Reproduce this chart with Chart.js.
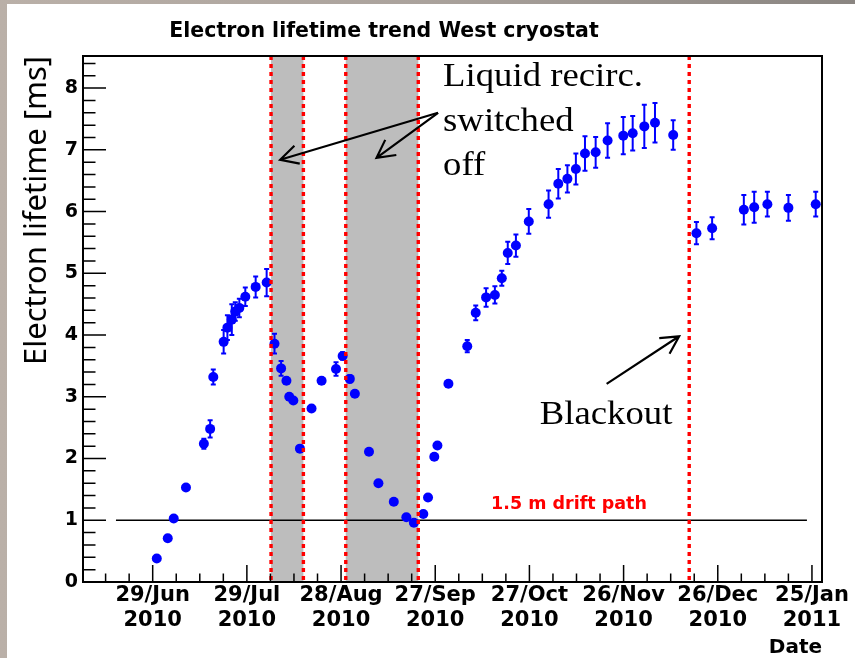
<!DOCTYPE html>
<html>
<head>
<meta charset="utf-8">
<script src="https://cdn.jsdelivr.net/npm/chart.js@4.4.1/dist/chart.umd.min.js"></script>
<style>
  html, body { margin: 0; padding: 0; background: #fff; overflow: hidden; }
  canvas { display: block; }
</style>
</head>
<body>
<canvas id="c" width="855" height="658"></canvas>
<script>
// Electron lifetime in the West cryostat; x = days counted from 29 Jun 2010
const dayOffsets = [
  1.3, 4.8, 6.7, 10.6, 16.3, 18.3, 19.3, 22.6, 23.8, 25.2, 26.3, 27.6, 29.5, 32.8, 36.3,
  38.8, 40.9, 42.6, 43.5, 44.8, 46.9, 50.6, 53.8, 58.4, 60.5, 62.8, 64.4, 68.9, 71.9, 76.8,
  80.8, 83.2, 86.2, 87.7, 89.7, 90.7, 94.2, 100.2, 102.9, 106.2, 109.0, 111.2, 113.1, 115.7,
  119.8, 126.1, 129.2, 132.1, 134.8, 137.7, 141.1, 144.9, 149.9, 152.9, 156.6, 160.0, 165.8,
  173.2, 178.2, 188.3, 191.6, 195.8, 202.5, 211.2
];
const lifetimeMs = [
  0.38, 0.71, 1.03, 1.53, 2.24, 2.48, 3.32, 3.89, 4.12, 4.25, 4.38, 4.44, 4.62, 4.78, 4.85,
  3.86, 3.46, 3.26, 3.00, 2.94, 2.16, 2.81, 3.26, 3.45, 3.66, 3.29, 3.05, 2.11, 1.60, 1.30,
  1.05, 0.96, 1.10, 1.37, 2.03, 2.21, 3.21, 3.82, 4.36, 4.61, 4.65, 4.92, 5.33, 5.45,
  5.84, 6.12, 6.45, 6.53, 6.69, 6.94, 6.96, 7.15, 7.23, 7.27, 7.38, 7.44, 7.24,
  5.65, 5.73, 6.03, 6.07, 6.12, 6.06, 6.12
];
const lifetimeErr = [
  0, 0, 0, 0, 0.08, 0.14, 0.12, 0.19, 0.20, 0.25, 0.15, 0.15, 0.15, 0.17, 0.22,
  0.16, 0.12, 0.05, 0, 0, 0, 0, 0.05, 0.11, 0.06, 0.06, 0, 0, 0, 0,
  0, 0, 0, 0, 0, 0, 0, 0.10, 0.12, 0.15, 0.14, 0.12, 0.18, 0.18,
  0.20, 0.22, 0.24, 0.22, 0.25, 0.28, 0.25, 0.28, 0.30, 0.28, 0.35, 0.32, 0.24,
  0.18, 0.18, 0.24, 0.25, 0.20, 0.21, 0.20
];

// Date axis: labelled every 30 days
const dateTickDays = [0, 30, 60, 90, 120, 150, 180, 210];
const dateTickLabels = [
  ['29/Jun', '2010'], ['29/Jul', '2010'], ['28/Aug', '2010'], ['27/Sep', '2010'],
  ['27/Oct', '2010'], ['26/Nov', '2010'], ['26/Dec', '2010'], ['25/Jan', '2011']
];
const lifetimeTicks = [0, 1, 2, 3, 4, 5, 6, 7, 8];

// Events: recirculation stops/restarts and the blackout (days from 29 Jun 2010)
const eventDays = [37.7, 48.0, 61.5, 84.6, 170.9];
const recircOffBands = [[37.7, 48.0], [61.5, 84.6]];
// Lifetime needed for a 1.5 m drift path
const driftPathLifetime = 1.0;
const driftPathSpan = [-11.7, 208.4];

const points = dayOffsets.map((d, i) => ({ x: d, y: lifetimeMs[i] }));

function arrow(ctx, x1, y1, x2, y2) {
  const ang = Math.atan2(y2 - y1, x2 - x1);
  const hl = 20, ha = 28 * Math.PI / 180;
  ctx.beginPath();
  ctx.moveTo(x1, y1); ctx.lineTo(x2, y2);
  ctx.moveTo(x2 - hl * Math.cos(ang - ha), y2 - hl * Math.sin(ang - ha));
  ctx.lineTo(x2, y2);
  ctx.lineTo(x2 - hl * Math.cos(ang + ha), y2 - hl * Math.sin(ang + ha));
  ctx.stroke();
}

function wideText(ctx, txt, x, y, font, sx, align, color) {
  ctx.save();
  ctx.font = font;
  ctx.fillStyle = color || '#000';
  ctx.textAlign = align || 'left';
  ctx.textBaseline = 'alphabetic';
  ctx.translate(x, y);
  ctx.scale(sx, 1);
  ctx.fillText(txt, 0, 0);
  ctx.restore();
}

const decor = {
  id: 'decor',
  beforeDraw(chart) {
    const ctx = chart.ctx;
    const g = ctx.createLinearGradient(0, 0, chart.width, 0);
    g.addColorStop(0, '#bab0a8');
    g.addColorStop(0.5, '#aaa29c');
    g.addColorStop(1, '#8a8581');
    ctx.save();
    ctx.fillStyle = g;
    ctx.fillRect(0, 0, chart.width, chart.height);
    ctx.fillStyle = '#ffffff';
    ctx.fillRect(7, 4, chart.width - 7, chart.height - 4);
    ctx.restore();
  },
  beforeDatasetsDraw(chart) {
    const ctx = chart.ctx, xs = chart.scales.x, ys = chart.scales.y, a = chart.chartArea;
    ctx.save();
    // shaded periods with recirculation off
    ctx.fillStyle = '#bdbdbd';
    recircOffBands.forEach(([d0, d1]) => {
      const x0 = xs.getPixelForValue(d0), x1 = xs.getPixelForValue(d1);
      ctx.fillRect(x0, a.top, x1 - x0, a.bottom - a.top);
    });
    // 1.5 m drift path reference
    ctx.strokeStyle = '#000';
    ctx.lineWidth = 1.3;
    ctx.beginPath();
    const yl = ys.getPixelForValue(driftPathLifetime);
    ctx.moveTo(xs.getPixelForValue(driftPathSpan[0]), yl);
    ctx.lineTo(xs.getPixelForValue(driftPathSpan[1]), yl);
    ctx.stroke();
    // error bars
    ctx.strokeStyle = '#0000ff';
    ctx.lineWidth = 2;
    dayOffsets.forEach((d, i) => {
      const e = lifetimeErr[i];
      if (!e) return;
      const x = xs.getPixelForValue(d);
      const yt = ys.getPixelForValue(lifetimeMs[i] + e);
      const yb = ys.getPixelForValue(lifetimeMs[i] - e);
      ctx.beginPath();
      ctx.moveTo(x, yt); ctx.lineTo(x, yb);
      ctx.moveTo(x - 2.5, yt); ctx.lineTo(x + 2.5, yt);
      ctx.moveTo(x - 2.5, yb); ctx.lineTo(x + 2.5, yb);
      ctx.stroke();
    });
    ctx.restore();
  },
  afterDatasetsDraw(chart) {
    const ctx = chart.ctx, xs = chart.scales.x, ys = chart.scales.y, a = chart.chartArea;
    ctx.save();
    // event markers
    ctx.strokeStyle = '#ff0000';
    ctx.lineWidth = 3.4;
    ctx.setLineDash([4, 4]);
    eventDays.forEach(d => {
      const x = xs.getPixelForValue(d);
      ctx.beginPath();
      ctx.moveTo(x, a.top);
      ctx.lineTo(x, a.bottom);
      ctx.stroke();
    });
    ctx.setLineDash([]);

    // frame
    ctx.strokeStyle = '#000';
    ctx.lineWidth = 2;
    ctx.strokeRect(a.left, a.top, a.right - a.left, a.bottom - a.top);

    // inner tick marks
    ctx.lineWidth = 1.5;
    ctx.beginPath();
    for (let v = 0; v <= ys.max + 1e-6; v = Math.round((v + 0.2) * 10) / 10) {
      const y = ys.getPixelForValue(v);
      const major = Math.abs(v - Math.round(v)) < 1e-6;
      ctx.moveTo(a.left, y);
      ctx.lineTo(a.left + (major ? 23 : 12.5), y);
    }
    for (let d = -22.5; d <= xs.max; d += 7.5) {
      if (d < xs.min) continue;
      const x = xs.getPixelForValue(d);
      const major = Math.abs(d / 30 - Math.round(d / 30)) < 1e-6;
      ctx.moveTo(x, a.bottom);
      ctx.lineTo(x, a.bottom - (major ? 17 : 8.5));
    }
    ctx.stroke();

    // title
    ctx.fillStyle = '#000';
    ctx.font = 'bold 20.5px "DejaVu Sans"';
    ctx.textAlign = 'center';
    ctx.fillText('Electron lifetime trend West cryostat', 384, 37);

    // annotations
    const serif = '34px "Liberation Serif"';
    const tx = xs.getPixelForValue(92.5);
    wideText(ctx, 'Liquid recirc.', tx, ys.getPixelForValue(8.03), serif, 1.08);
    wideText(ctx, 'switched', tx, ys.getPixelForValue(7.30), serif, 1.08);
    wideText(ctx, 'off', tx, ys.getPixelForValue(6.60), serif, 1.08);
    wideText(ctx, 'Blackout', xs.getPixelForValue(123.3), ys.getPixelForValue(2.56), serif, 1.08);
    ctx.font = 'bold 17.5px "DejaVu Sans"';
    ctx.fillStyle = '#ff0000';
    ctx.textAlign = 'center';
    ctx.fillText('1.5 m drift path', xs.getPixelForValue(132.6), ys.getPixelForValue(1.28) + 6.5);

    ctx.strokeStyle = '#000';
    ctx.lineWidth = 2.2;
    const ax = xs.getPixelForValue(90.9), ay = ys.getPixelForValue(7.60);
    arrow(ctx, ax, ay, xs.getPixelForValue(40.6), ys.getPixelForValue(6.84));
    arrow(ctx, ax, ay, xs.getPixelForValue(71.3), ys.getPixelForValue(6.87));
    arrow(ctx, xs.getPixelForValue(144.6), ys.getPixelForValue(3.21),
               xs.getPixelForValue(167.7), ys.getPixelForValue(3.98));
    ctx.restore();
  }
};

new Chart(document.getElementById('c'), {
  type: 'scatter',
  data: {
    datasets: [{
      data: points,
      backgroundColor: '#0000ff',
      borderWidth: 0,
      pointRadius: 5,
      pointHoverRadius: 5
    }]
  },
  options: {
    responsive: false,
    animation: false,
    devicePixelRatio: 1,
    layout: { padding: { left: 0, top: 56, right: 33, bottom: 0 } },
    plugins: { legend: { display: false }, tooltip: { enabled: false }, title: { display: false } },
    scales: {
      x: {
        type: 'linear',
        min: -22.2,
        max: 213.2,
        afterBuildTicks: s => { s.ticks = dateTickDays.map(v => ({ value: v })); },
        afterFit: s => { s.height = 76; },
        grid: { display: false, drawTicks: false },
        border: { display: false },
        ticks: {
          autoSkip: false, maxRotation: 0, minRotation: 0, padding: 1,
          color: '#000',
          font: { family: 'DejaVu Sans', weight: 'bold', size: 21 },
          callback: v => dateTickLabels[dateTickDays.indexOf(v)]
        },
        title: {
          display: true, text: 'Date', align: 'end', color: '#000',
          font: { family: 'DejaVu Sans', weight: 'bold', size: 20, lineHeight: 1 },
          padding: 0
        }
      },
      y: {
        type: 'linear',
        min: 0,
        max: 8.52,
        afterBuildTicks: s => { s.ticks = lifetimeTicks.map(v => ({ value: v })); },
        afterFit: s => { s.width = 83; },
        grid: { display: false, drawTicks: false },
        border: { display: false },
        ticks: {
          padding: 5, color: '#000',
          font: { family: 'DejaVu Sans', weight: 'bold', size: 19 },
          callback: v => String(v)
        },
        title: {
          display: true, text: 'Electron lifetime [ms]', align: 'end', color: '#000',
          font: { family: 'Noto Sans', size: 31, lineHeight: 1 },
          padding: { top: 22, bottom: 0 }
        }
      }
    }
  },
  plugins: [decor]
});
</script>
</body>
</html>
